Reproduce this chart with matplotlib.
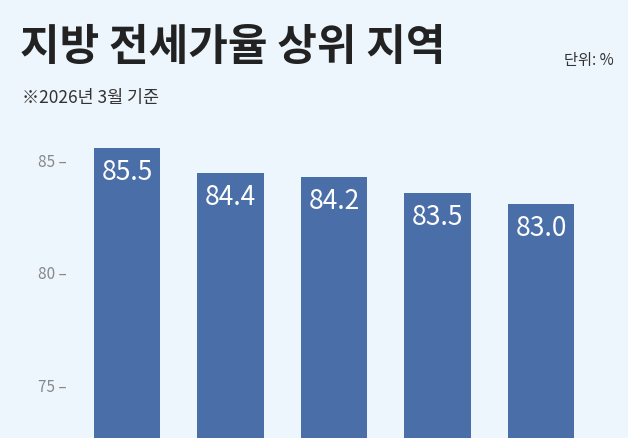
import matplotlib.pyplot as plt

plt.rcParams['font.family'] = ['Noto Sans CJK KR', 'DejaVu Sans']

values = [85.5, 84.4, 84.2, 83.5, 83.0]
positions = [0, 1, 2, 3, 4]
yticks = [75, 80, 85]
tick_labels = ['75 –', '80 –', '85 –']

bg = '#eef6fd'
fig = plt.figure(figsize=(6.28, 4.39), dpi=100, facecolor=bg)
W, H = 628, 439
# axes spanning pixel x 75..628, y 100..439
ax = fig.add_axes([75 / W, 0, 1 - 75 / W, (439 - 100) / H])
ax.set_facecolor(bg)
ax.bar(positions, values, width=0.64, color='#4a6fa8', bottom=0)
for p, v in zip(positions, values):
    ax.text(p, v - 0.45, f'{v:.1f}', ha='center', va='top', color='white', fontsize=19)
ax.set_xlim(-0.502, 4.84)
ax.set_ylim(72.6, 87.67)
ax.set_yticks(yticks)
ax.set_yticklabels(tick_labels, color='#888888', fontsize=11)
ax.tick_params(axis='y', length=0, pad=6)
ax.set_xticks([])
for s in ax.spines.values():
    s.set_visible(False)

fig.text(20 / W, 1 - 47 / H, '지방 전세가율 상위 지역', fontsize=31, fontweight='bold',
         color='#222222', va='center')
fig.text(614 / W, 1 - 60 / H, '단위: %', fontsize=11, color='#333333', ha='right', va='center')
fig.text(22 / W, 1 - 98 / H, '※2026년 3월 기준', fontsize=12.5, color='#333333', va='center')

fig.savefig('out.png', dpi=100, facecolor=bg)
